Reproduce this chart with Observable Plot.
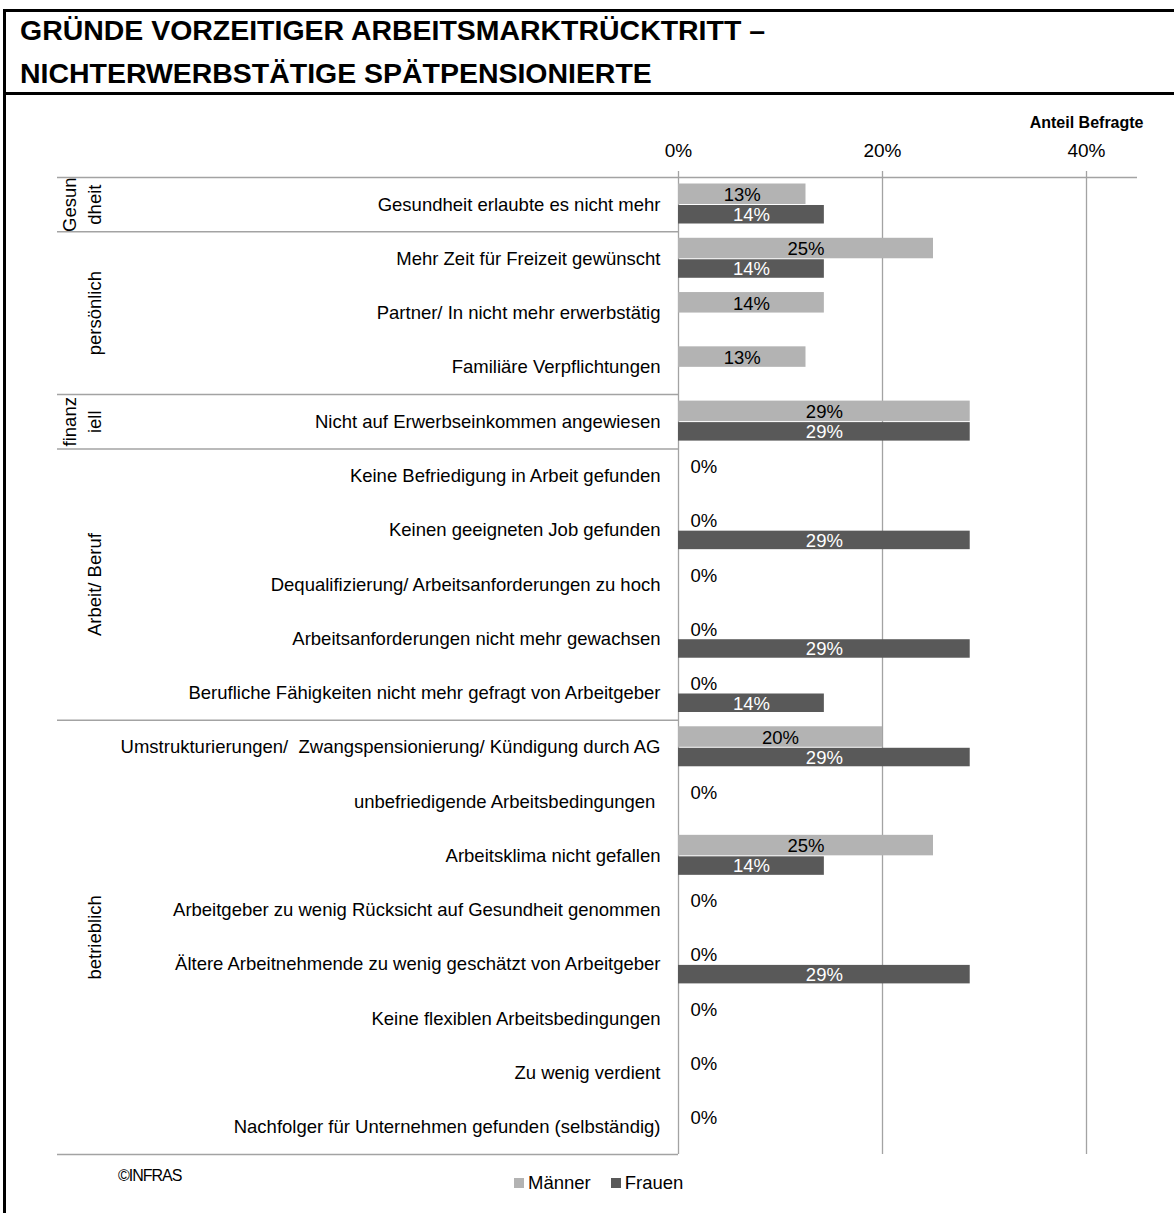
<!DOCTYPE html>
<html>
<head>
<meta charset="utf-8">
<script src="https://cdn.jsdelivr.net/npm/d3@7"></script>
<script src="https://cdn.jsdelivr.net/npm/@observablehq/plot@0.6"></script>
<style>
  body { margin: 0; background: #fff; font-family: "Liberation Sans", Arial, sans-serif; }
  #page { position: relative; width: 1174px; height: 1213px; overflow: hidden; background: #fff; }
  #leftBorder { position: absolute; left: 3px; top: 9px; width: 3px; height: 1204px; background: #000; }
  #titleBox { position: absolute; left: 3px; top: 9px; width: 1171px; height: 80px; border-top: 3px solid #000; border-bottom: 3px solid #000; box-sizing: content-box; }
  .tline { position: absolute; left: 20px; font-weight: bold; font-size: 27px; line-height: 27px; white-space: nowrap; transform-origin: 0 50%; color: #000; }
  #chart { position: absolute; left: 0; top: 91px; }
  #caption { position: absolute; left: 118px; top: 1167px; font-size: 16px; letter-spacing: -1px; line-height: 18px; color: #000; }
  #legend { position: absolute; left: 514px; top: 1173px; font-size: 18.5px; line-height: 20px; color: #000; white-space: nowrap; }
  .sw { display: inline-block; width: 10px; height: 10px; margin-right: 4px; vertical-align: 1px; }
  .li { display: inline-block; margin-right: 20px; }
</style>
</head>
<body>
<div id="page">
  <div id="titleBox"></div>
  <div id="leftBorder"></div>
  <div class="tline" id="t1" style="top:18px">GRÜNDE VORZEITIGER ARBEITSMARKTRÜCKTRITT –</div>
  <div class="tline" id="t2" style="top:61px">NICHTERWERBSTÄTIGE SPÄTPENSIONIERTE</div>
  <div id="chart"></div>
  <div id="caption">©INFRAS</div>
  <div id="legend"></div>
</div>
<script>
// ---- data ----
const categories = [
  "Gesundheit erlaubte es nicht mehr",
  "Mehr Zeit für Freizeit gewünscht",
  "Partner/ In nicht mehr erwerbstätig",
  "Familiäre Verpflichtungen",
  "Nicht auf Erwerbseinkommen angewiesen",
  "Keine Befriedigung in Arbeit gefunden",
  "Keinen geeigneten Job gefunden",
  "Dequalifizierung/ Arbeitsanforderungen zu hoch",
  "Arbeitsanforderungen nicht mehr gewachsen",
  "Berufliche Fähigkeiten nicht mehr gefragt von Arbeitgeber",
  "Umstrukturierungen/  Zwangspensionierung/ Kündigung durch AG",
  "unbefriedigende Arbeitsbedingungen ",
  "Arbeitsklima nicht gefallen",
  "Arbeitgeber zu wenig Rücksicht auf Gesundheit genommen",
  "Ältere Arbeitnehmende zu wenig geschätzt von Arbeitgeber",
  "Keine flexiblen Arbeitsbedingungen",
  "Zu wenig verdient",
  "Nachfolger für Unternehmen gefunden (selbständig)"
];
const groupOf = [
  "Gesundheit",
  "persönlich", "persönlich", "persönlich",
  "finanziell",
  "Arbeit/ Beruf", "Arbeit/ Beruf", "Arbeit/ Beruf", "Arbeit/ Beruf", "Arbeit/ Beruf",
  "betrieblich", "betrieblich", "betrieblich", "betrieblich", "betrieblich", "betrieblich", "betrieblich", "betrieblich"
];
const groupNames = ["Gesundheit", "persönlich", "finanziell", "Arbeit/ Beruf", "betrieblich"];
const groupLabels = ["Gesun\ndheit", "persönlich", "finanz\niell", "Arbeit/ Beruf", "betrieblich"];
const maenner = [12.5, 25, 14.3, 12.5, 28.6, 0, 0, 0, 0, 0, 20, 0, 25, 0, 0, 0, 0, 0];
const frauen  = [14.3, 14.3, null, null, 28.6, null, 28.6, null, 28.6, 14.3, 28.6, null, 14.3, null, 28.6, null, null, null];
const seriesNames = ["Männer", "Frauen"];
const seriesColors = ["#b3b3b3", "#595959"];
const xTicks = [0, 20, 40];
const axisLabel = "Anteil Befragte";

// ---- layout ----
const W = 1174, H = 1075, MT = 86, MB = 12, ML = 57, MR = 37;
const xRange = [678, W - MR];
const bw = (H - MT - MB) / categories.length;

const rows = categories.map((c, i) => ({category: c, group: groupOf[i], m: maenner[i], f: frauen[i]}));
const groupInfo = groupNames.map((g, k) => {
  const idx = rows.map((r, i) => r.group === g ? i : -1).filter(i => i >= 0);
  const mid = (idx.length - 1) / 2;
  return {label: groupLabels[k], first: categories[idx[0]], mid: categories[idx[0] + Math.floor(mid)], even: mid % 1 !== 0};
});
const fmt = v => Math.round(v) + "%";

const chart = Plot.plot({
  width: W, height: H,
  marginTop: MT, marginBottom: MB, marginLeft: ML, marginRight: MR,
  style: {fontFamily: "'Liberation Sans', Arial, sans-serif", fontSize: "18px", background: "transparent", color: "#000"},
  x: {domain: [0, 45], range: xRange},
  y: {domain: categories, padding: 0, round: false, axis: null},
  marks: [
    Plot.gridX(xTicks, {stroke: "#a3a3a3", strokeOpacity: 1, strokeWidth: 1.3}),
    Plot.axisX(xTicks, {anchor: "top", tickSize: 7, tickPadding: 14, tickFormat: d => d + "%", stroke: "#a3a3a3", strokeWidth: 1.3, fontSize: 19}),
    // top line across
    Plot.ruleY([categories[0]], {dy: -bw / 2, stroke: "#a3a3a3", strokeWidth: 1.5}),
    // group separators (label area only)
    Plot.ruleY(groupInfo.slice(1), {y: "first", dy: -bw / 2, insetRight: xRange[1] - xRange[0], stroke: "#a3a3a3", strokeWidth: 1.5}),
    Plot.ruleY([categories[categories.length - 1]], {dy: bw / 2, insetRight: xRange[1] - xRange[0], stroke: "#a3a3a3", strokeWidth: 1.5}),
    // bars
    Plot.barX(rows.filter(d => d.m != null && d.m > 0), {x: "m", y: "category", fill: seriesColors[0], insetTop: 6.5, insetBottom: bw - 27}),
    Plot.barX(rows.filter(d => d.f != null && d.f > 0), {x: "f", y: "category", fill: seriesColors[1], insetTop: 28, insetBottom: bw - 46.5}),
    // value labels
    Plot.text(rows.filter(d => d.m > 0), {x: d => d.m / 2, y: "category", text: d => fmt(d.m), fill: "#000", dy: -9.5, fontSize: 18.5}),
    Plot.text(rows.filter(d => d.m === 0), {x: 0, y: "category", text: d => fmt(d.m), fill: "#000", textAnchor: "start", dx: 12, dy: -9, fontSize: 18.5}),
    Plot.text(rows.filter(d => d.f != null && d.f > 0), {x: d => d.f / 2, y: "category", text: d => fmt(d.f), fill: "#fff", dy: 10.5, fontSize: 18.5}),
    // category labels
    Plot.text(rows, {x: 0, y: "category", text: "category", textAnchor: "end", dx: -18, fill: "#000", fontSize: 18.5}),
    // group labels
    Plot.text(groupInfo.filter(d => !d.even), {y: "mid", text: "label", frameAnchor: "left", textAnchor: "middle", rotate: -90, lineAnchor: "bottom", dx: 43, lineHeight: 1.3, fill: "#000", fontSize: 18.5}),
    Plot.text(groupInfo.filter(d => d.even), {y: "mid", text: "label", frameAnchor: "left", textAnchor: "middle", rotate: -90, lineAnchor: "bottom", dx: 43, dy: bw / 2, lineHeight: 1.3, fill: "#000", fontSize: 18.5}),
    // axis title
    Plot.text([axisLabel], {frameAnchor: "top-right", text: d => d, textAnchor: "end", dx: 6, dy: -61, fontWeight: "bold", fontSize: 16, fill: "#000"})
  ]
});
document.getElementById("chart").appendChild(chart);

// title width fit
{
  const el = document.getElementById("t1");
  const w = el.getBoundingClientRect().width;
  const s = 745 / w;
  document.getElementById("t1").style.transform = `scaleX(${s})`;
  document.getElementById("t2").style.transform = `scaleX(${s})`;
}

// legend
const legend = document.getElementById("legend");
seriesNames.forEach((n, i) => {
  const span = document.createElement("span");
  span.className = "li";
  span.innerHTML = `<span class="sw" style="background:${seriesColors[i]}"></span>${n}`;
  legend.appendChild(span);
});
</script>
</body>
</html>
